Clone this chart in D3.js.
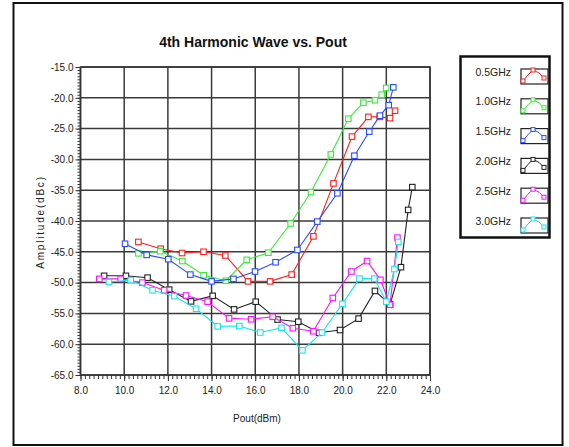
<!DOCTYPE html>
<html><head><meta charset="utf-8">
<script src="https://cdn.jsdelivr.net/npm/d3@7"></script>
<style>
body{margin:0;background:#fff;}
svg{display:block;}
text{font-family:"Liberation Sans",Arial,sans-serif;fill:#222;}
</style>
</head><body>
<svg id="c" width="569" height="447"></svg>
<script>
const chartTitle = "4th Harmonic Wave vs. Pout";
const xLabel = "Pout(dBm)";
const yLabel = "Amplitude(dBc)";
const xTicks = [8, 10, 12, 14, 16, 18, 20, 22, 24];
const yTicks = [-15, -20, -25, -30, -35, -40, -45, -50, -55, -60, -65];
const seriesNames = ["0.5GHz", "1.0GHz", "1.5GHz", "2.0GHz", "2.5GHz", "3.0GHz"];
const seriesColors = ["#ff1f1f", "#33ee33", "#2a4cff", "#222222", "#ff10ff", "#10e8ee"];

const pout05 = [10.65, 11.67, 12.65, 13.63, 14.63, 15.67, 16.68, 17.67, 18.66, 19.58, 20.43, 21.18, 21.7, 22.17, 22.4];
const amp05  = [-43.4, -44.5, -45.2, -45.0, -45.6, -49.8, -49.8, -48.7, -42.5, -33.9, -26.3, -23.1, -23.1, -23.3, -22.1];

const pout10 = [10.65, 11.65, 12.66, 13.64, 14.65, 15.61, 16.6, 17.62, 18.55, 19.46, 20.26, 20.95, 21.48, 21.79, 21.99];
const amp10  = [-45.25, -44.9, -46.5, -48.8, -49.7, -46.3, -45.15, -40.4, -35.3, -29.2, -23.4, -20.8, -20.4, -19.5, -18.4];

const pout15 = [10.04, 11.03, 12.02, 13.03, 14.0, 15.0, 15.99, 16.93, 17.93, 18.84, 19.76, 20.54, 21.22, 21.71, 22.11, 22.32];
const amp15  = [-43.7, -45.5, -46.2, -48.7, -49.8, -49.4, -48.2, -46.7, -44.7, -40.1, -35.5, -29.4, -25.5, -22.9, -21.2, -18.3];

const pout20 = [9.08, 10.08, 11.07, 12.06, 13.06, 14.05, 15.03, 16.02, 17.02, 17.97, 18.92, 19.88, 20.73, 21.48, 22.17, 22.67, 23.0, 23.19];
const amp20  = [-48.9, -48.9, -49.2, -51.15, -53.05, -52.15, -54.35, -53.1, -56.0, -56.35, -58.15, -57.7, -55.85, -51.35, -53.55, -47.5, -38.2, -34.5];

const pout25 = [8.86, 9.84, 10.83, 11.83, 12.83, 13.82, 14.8, 15.81, 16.8, 17.72, 18.66, 19.55, 20.4, 21.12, 21.73, 22.17, 22.51];
const amp25  = [-49.4, -49.4, -50.0, -51.25, -52.1, -53.1, -55.8, -55.95, -55.55, -57.4, -57.9, -52.5, -48.2, -46.5, -49.55, -53.6, -42.7];

const pout30 = [9.3, 10.3, 11.3, 12.29, 13.29, 14.28, 15.27, 16.23, 17.2, 18.16, 19.06, 19.99, 20.77, 21.45, 22.0, 22.37, 22.55];
const amp30  = [-49.9, -49.6, -51.25, -52.2, -54.25, -57.1, -57.05, -58.1, -57.35, -61.0, -58.1, -53.45, -49.35, -49.35, -53.1, -47.8, -43.4];

const seriesX = [pout05, pout10, pout15, pout20, pout25, pout30];
const seriesY = [amp05, amp10, amp15, amp20, amp25, amp30];

const series = seriesNames.map((name, i) => ({
  name, color: seriesColors[i],
  pts: seriesX[i].map((xv, j) => ({x: xv, y: seriesY[i][j]}))
}));

const svg = d3.select("#c");
const L = 80.5, R = 430, T = 67, B = 375;
const x = d3.scaleLinear().domain([8, 24]).range([L, R]);
const y = d3.scaleLinear().domain([-65, -15]).range([B, T]);

// outer frame
svg.append("rect").attr("x", 13.5).attr("y", 3).attr("width", 549).attr("height", 442)
  .attr("fill", "#fff").attr("stroke", "#111").attr("stroke-width", 2);

// title
svg.append("text").attr("x", 253).attr("y", 47).attr("text-anchor", "middle")
  .style("font-size", "14px").style("font-weight", "bold").style("fill", "#111").text(chartTitle);

// grid
const grid = svg.append("g");
grid.selectAll("line.v").data(xTicks).join("line")
  .attr("x1", d => x(d)).attr("x2", d => x(d)).attr("y1", T).attr("y2", B)
  .attr("stroke", "#3a3a3a").attr("stroke-width", 1.5);
grid.selectAll("line.h").data(yTicks).join("line")
  .attr("x1", L).attr("x2", R).attr("y1", d => y(d)).attr("y2", d => y(d))
  .attr("stroke", "#3a3a3a").attr("stroke-width", 1.5);

// axes
const xMinor = d3.range(8, 24.001, 0.2);
const yMinor = d3.range(-65, -14.999, 0.5);
const gxMin = svg.append("g").attr("transform", `translate(0,${B})`)
  .call(d3.axisBottom(x).tickValues(xMinor).tickSize(4).tickFormat(""));
const gx = svg.append("g").attr("transform", `translate(0,${B})`)
  .call(d3.axisBottom(x).tickValues(xTicks).tickSize(6).tickPadding(6).tickFormat(d => d.toFixed(1)));
const gyMin = svg.append("g").attr("transform", `translate(${L},0)`)
  .call(d3.axisLeft(y).tickValues(yMinor).tickSize(3).tickFormat(""));
const gy = svg.append("g").attr("transform", `translate(${L},0)`)
  .call(d3.axisLeft(y).tickValues(yTicks).tickSize(5).tickPadding(2).tickFormat(d => d.toFixed(1)));
[gxMin, gx, gyMin, gy].forEach(g => {
  g.select(".domain").remove();
  g.selectAll(".tick line").attr("stroke", "#333").attr("stroke-width", 1);
  g.selectAll("text").style("font-size", "10px").attr("fill", "#222").style("font-family", "'Liberation Sans',Arial,sans-serif");
});

// plot frame
svg.append("rect").attr("x", L).attr("y", T).attr("width", R - L).attr("height", B - T)
  .attr("fill", "none").attr("stroke", "#333").attr("stroke-width", 1.5);

// axis labels
svg.append("text").attr("x", 257).attr("y", 422).attr("text-anchor", "middle")
  .style("font-size", "10px").text(xLabel);
svg.append("text").attr("transform", "translate(44,222) rotate(-90)").attr("text-anchor", "middle")
  .style("font-size", "10px").style("letter-spacing", "1.8px").text(yLabel);

// series
const line = d3.line().x(d => x(d.x)).y(d => y(d.y));
const gs = svg.append("g");
series.forEach(s => {
  const g = gs.append("g");
  g.append("path").datum(s.pts).attr("d", line).attr("fill", "none")
    .attr("stroke", s.color).attr("stroke-width", 1.1);
  g.selectAll("rect").data(s.pts).join("rect")
    .attr("x", d => x(d.x) - 2.75).attr("y", d => y(d.y) - 2.75).attr("width", 5.5).attr("height", 5.5)
    .attr("fill", "#fff").attr("stroke", s.color).attr("stroke-width", 1.1);
});

// legend
const lg = svg.append("g");
lg.append("rect").attr("x", 460.5).attr("y", 56.5).attr("width", 89).attr("height", 181)
  .attr("fill", "#fff").attr("stroke", "#111").attr("stroke-width", 2.5);
const rowY = d3.scalePoint().domain(seriesNames).range([72, 221]);
const icon = [[2, 12], [7, 6], [12, 1], [18, 4], [23, 9]];
const iconMarks = [[2, 12], [12, 1], [23, 9]];
seriesNames.forEach((n, i) => {
  const cy = rowY(n);
  lg.append("text").attr("x", 511).attr("y", cy).attr("dy", "0.35em").attr("text-anchor", "end")
    .style("font-size", "10.5px").text(n);
  const bx = 521, by = cy - 3;
  lg.append("rect").attr("x", bx).attr("y", by).attr("width", 27).attr("height", 15)
    .attr("fill", "#fff").attr("stroke", "#222").attr("stroke-width", 1.2);
  lg.append("path").attr("d", d3.line()(icon.map(p => [bx + p[0], by + p[1]])))
    .attr("fill", "none").attr("stroke", seriesColors[i]).attr("stroke-width", 1);
  iconMarks.forEach(p => {
    lg.append("rect").attr("x", bx + p[0] - 2).attr("y", by + p[1] - 2).attr("width", 4).attr("height", 4)
      .attr("fill", "#fff").attr("stroke", seriesColors[i]).attr("stroke-width", 1);
  });
});
</script>
</body></html>
